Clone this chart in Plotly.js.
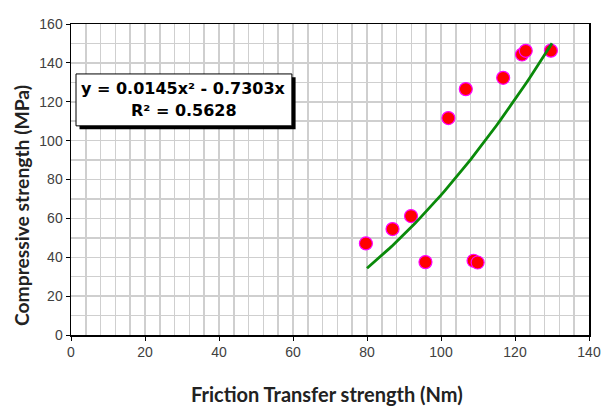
<!DOCTYPE html>
<html>
<head>
<meta charset="utf-8">
<script src="https://cdn.plot.ly/plotly-3.0.1.min.js"></script>
<style>html,body{margin:0;padding:0;background:#fff;}#chart{width:601px;height:407px;}</style>
</head>
<body>
<div id="chart"></div>
<script>
// Data
const frictionTransfer = [79.7, 86.9, 91.9, 95.8, 102.0, 106.7, 108.8, 109.9, 116.8, 121.9, 122.9, 129.7];
const compressive      = [47.1, 54.5, 61.2, 37.5, 111.6, 126.5, 38.2, 37.3, 132.3, 144.3, 146.2, 146.3];
// Polynomial trendline shown in the chart: y = a*x^2 + b*x
const trendCoeffs = [0.0145, -0.7303];
const trendRange = [80, 130];
const xTicks = [0, 20, 40, 60, 80, 100, 120, 140];
const yTicks = [0, 20, 40, 60, 80, 100, 120, 140, 160];
const equationLines = ["y = 0.0145x² - 0.7303x", "R² = 0.5628"];

const trendX = [];
const trendY = [];
for (let i = 0; i <= 50; i++) {
  const x = trendRange[0] + (trendRange[1] - trendRange[0]) * i / 50;
  trendX.push(x);
  trendY.push(trendCoeffs[0] * x * x + trendCoeffs[1] * x);
}

const traces = [
  {
    x: frictionTransfer, y: compressive, type: 'scatter', mode: 'markers',
    marker: {size: 13, color: '#ff0000', line: {color: '#ff00ff', width: 1.2}},
    showlegend: false, hoverinfo: 'x+y'
  },
  {
    x: trendX, y: trendY, type: 'scatter', mode: 'lines',
    line: {color: '#0a8a0a', width: 2.8},
    showlegend: false, hoverinfo: 'skip'
  }
];

const tickFont = {family: 'Liberation Sans, Arial, sans-serif', size: 14, color: '#404040'};
const eqFont = {family: 'DejaVu Sans, sans-serif', size: 16, color: '#000'};

const layout = {
  width: 601, height: 407,
  margin: {l: 71, r: 12, t: 24, b: 72},
  paper_bgcolor: '#ffffff', plot_bgcolor: '#ffffff',
  showlegend: false,
  xaxis: {
    range: [0, 140], tickvals: xTicks, ticktext: xTicks.map(String),
    showgrid: false, zeroline: false,
    showline: true, linecolor: '#000', linewidth: 1.5, mirror: true,
    ticks: 'outside', ticklen: 4, tickcolor: '#000', tickwidth: 1,
    tickfont: tickFont, fixedrange: true,
    minor: {dtick: 4, showgrid: true, gridcolor: '#cfcfcf', gridwidth: 1.5, ticks: ''}
  },
  yaxis: {
    range: [0, 160], tickvals: yTicks, ticktext: yTicks.map(String),
    showgrid: false, zeroline: false,
    showline: true, linecolor: '#000', linewidth: 1.5, mirror: true,
    ticks: 'outside', ticklen: 4, tickcolor: '#000', tickwidth: 1,
    tickfont: tickFont, fixedrange: true,
    minor: {dtick: 10, showgrid: true, gridcolor: '#cfcfcf', gridwidth: 1.5, ticks: ''}
  },
  shapes: [
    {type: 'rect', xref: 'x', yref: 'y', x0: 2.3, x1: 60.7, y0: 105.9, y1: 132.6,
     fillcolor: '#000', line: {width: 0}, layer: 'above'},
    {type: 'rect', xref: 'x', yref: 'y', x0: 1.35, x1: 59.7, y0: 107.6, y1: 134.3,
     fillcolor: '#fff', line: {color: '#000', width: 1}, layer: 'above'}
  ],
  annotations: [
    {xref: 'x', yref: 'y', x: 30.5, y: 127.0, text: '<b>' + equationLines[0] + '</b>',
     showarrow: false, font: eqFont},
    {xref: 'x', yref: 'y', x: 30.5, y: 115.6, text: '<b>' + equationLines[1] + '</b>',
     showarrow: false, font: eqFont},
    {xref: 'paper', yref: 'paper', x: 0.495, y: -0.19, yanchor: 'middle', xanchor: 'center',
     text: '<b>Friction Transfer strength (Nm)</b>', showarrow: false,
     font: {family: 'Lato, Open Sans, sans-serif', size: 20, color: '#222'}},
    {xref: 'paper', yref: 'paper', x: -0.095, y: 0.417, xanchor: 'center', yanchor: 'middle',
     text: '<b>Compressive strength (MPa)</b>', textangle: -90, showarrow: false,
     font: {family: 'Lato, Open Sans, sans-serif', size: 19.3, color: '#222'}}
  ]
};

Plotly.newPlot('chart', traces, layout, {displayModeBar: false, staticPlot: true});
</script>
</body>
</html>
